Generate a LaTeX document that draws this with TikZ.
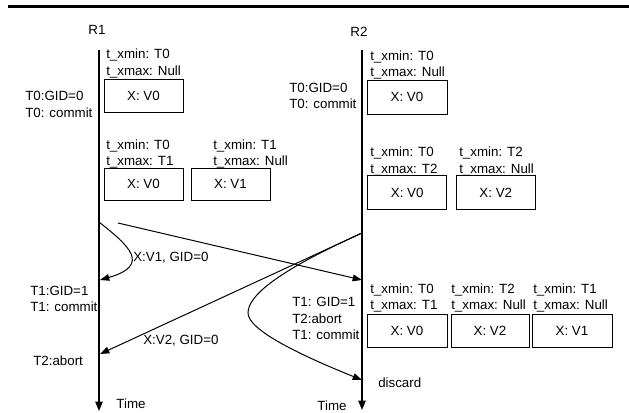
\documentclass[tikz,border=0pt]{standalone}
\usepackage{fontspec}
\setmainfont{Liberation Sans}
\usetikzlibrary{arrows.meta}
\begin{document}
\begin{tikzpicture}[x=0.75pt,y=-0.75pt,
  every node/.style={font=\fontsize{10}{12.5}\selectfont},
  lbl/.style={anchor=west, align=left, inner sep=0pt},
  box/.style={draw, line width=0.75pt, inner sep=0pt, minimum width=79*0.75pt, minimum height=33*0.75pt},
  life/.style={line width=1pt, -{Triangle[length=7pt,width=5.5pt]}},
  msg/.style={line width=0.75pt, -{Triangle[length=7pt,width=5pt]}}]
\useasboundingbox (0,0) rectangle (629,412);
\fill (8,4.5) rectangle (629,7.5);

% lifelines
\node (R1) at (97,30) {R1};
\node (R2) at (359,32) {R2};
\coordinate (r1top) at (99,50);
\coordinate (r1bot) at (99,411);
\coordinate (r2top) at (362,50);
\coordinate (r2bot) at (362,410);
\draw[life] (r1top) -- (r1bot);
\draw[life] (r2top) -- (r2bot);
\node (time1) at (131,404) {Time};
\node (time2) at (332,406) {Time};

% R1 boxes
\node[lbl] (l11) at (106,63.5) {t\_xmin: T0\\t\_xmax: Null};
\node[box] (b11) at (143.5,95.5) {X: V0};
\node[lbl] (g10) at (25,104.5) {T0:GID=0\\T0: commit};
\node[lbl] (l12) at (106,154) {t\_xmin: T0\\t\_xmax: T1};
\node[box, minimum height=32*0.75pt] (b12) at (143.5,184) {X: V0};
\node[lbl] (l13) at (213,154) {t\_xmin: T1\\t\_xmax: Null};
\node[box, minimum height=32*0.75pt] (b13) at (230.5,184) {X: V1};

% R2 boxes
\node[lbl] (l21) at (370,65) {t\_xmin: T0\\t\_xmax: Null};
\node[box, minimum width=80*0.75pt, minimum height=34*0.75pt] (b21) at (407,97) {X: V0};
\node[lbl] (g20) at (289,96) {T0:GID=0\\T0: commit};
\node[lbl] (l22) at (370,161.5) {t\_xmin: T0\\t\_xmax: T2};
\node[box, minimum height=33.5*0.75pt] (b22) at (407.2,192.7) {X: V0};
\node[lbl] (l23) at (459,161.5) {t\_xmin: T2\\t\_xmax: Null};
\node[box, minimum height=33.5*0.75pt] (b23) at (495.8,192.7) {X: V2};
\node[lbl] (l24) at (370,298) {t\_xmin: T0\\t\_xmax: T1};
\node[box, minimum width=80*0.75pt] (b24) at (407,330.5) {X: V0};
\node[lbl] (l25) at (451,298) {t\_xmin: T2\\t\_xmax: Null};
\node[box, minimum width=78*0.75pt] (b25) at (490,330.5) {X: V2};
\node[lbl] (l26) at (533,298) {t\_xmin: T1\\t\_xmax: Null};
\node[box, minimum width=80*0.75pt] (b26) at (572,330.5) {X: V1};

% other labels
\node[lbl] (g11) at (30,299) {T1:GID=1\\T1: commit};
\node[lbl] (a12) at (33,361) {T2:abort};
\node[lbl] (m1) at (133,258) {X:V1, GID=0};
\node[lbl] (m2) at (143,341) {X:V2, GID=0};
\node[lbl] (g21) at (292,318.5) {T1: GID=1\\T2:abort\\T1: commit};
\node[lbl] (disc) at (378,383) {discard};

% messages
\coordinate (s1) at (99,222);
\coordinate (e1) at (100,280);
\coordinate (s2) at (118,223);
\coordinate (e2) at (362,280);
\coordinate (s3) at (362,233);
\coordinate (e3) at (100,354);
\coordinate (e4) at (362,380);
\coordinate (k4) at (248,313);
\draw[msg] (s1) .. controls (128,245) and (152,265) .. (e1);
\draw[msg] (s2) -- (e2);
\draw[msg] (s3) -- (e3);
\draw[msg] (s3) .. controls (280,270) and (248,295) .. (k4) .. controls (248,330) and (300,355) .. (e4);
\end{tikzpicture}
\end{document}
